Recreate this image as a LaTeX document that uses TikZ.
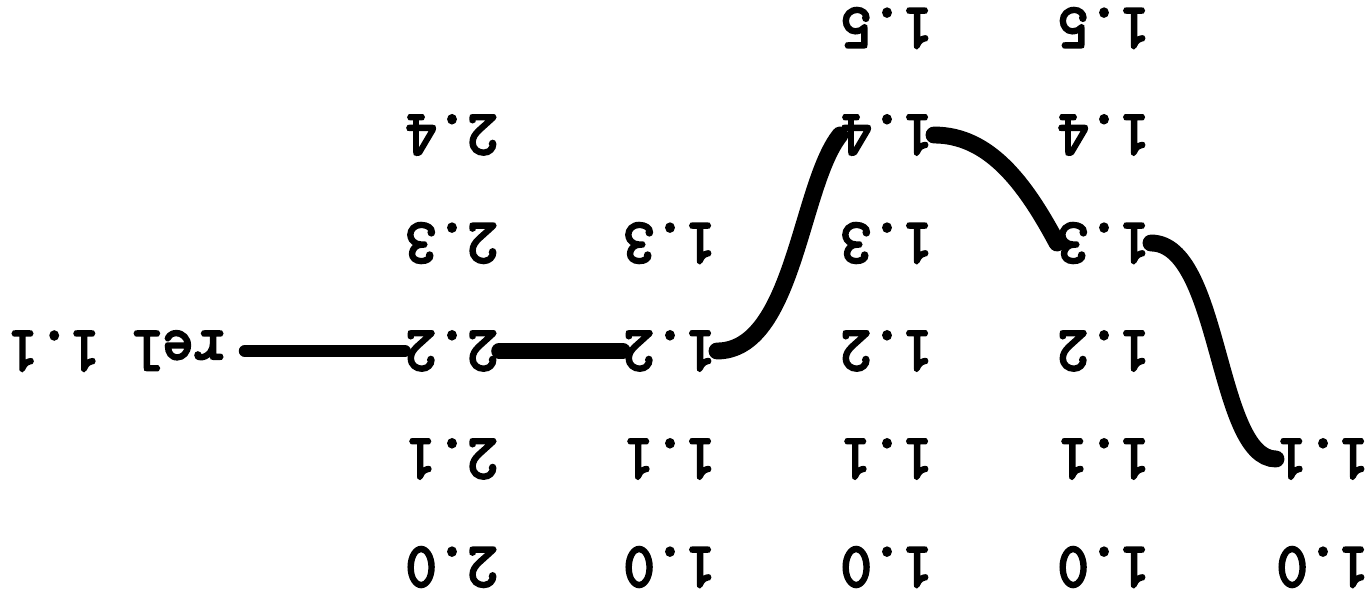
\documentclass[tikz,border=0pt]{standalone}
\usepackage{fontspec}
\usepackage{tikz}
\newfontfamily\revfamily{lmmono10-regular}[Extension=.otf, FakeBold=4]
\newcommand{\revfont}{\revfamily\fontsize{18}{18}\selectfont}
\tikzset{
  revlabel/.style  = {font=\revfont, inner sep=0pt, xscale=0.93},
  revpath/.style   = {line width=4.8pt, line cap=round},
  mergepath/.style = {line width=4.4pt, line cap=round},
  tagpath/.style   = {line width=3.4pt, line cap=round}
}
\begin{document}
\begin{tikzpicture}[rotate=180,transform shape]
  \useasboundingbox (0,-6.03) rectangle (13.72,0);
  % first column
  \node[revlabel] (a10) at (0.49,-0.36) {1.0};
  \node[revlabel] (a11) at (0.49,-1.44) {1.1};
  % second column
  \node[revlabel] (b10) at (2.68,-0.36) {1.0};
  \node[revlabel] (b11) at (2.68,-1.44) {1.1};
  \node[revlabel] (b12) at (2.68,-2.52) {1.2};
  \node[revlabel] (b13) at (2.68,-3.60) {1.3};
  \node[revlabel] (b14) at (2.68,-4.68) {1.4};
  \node[revlabel] (b15) at (2.68,-5.75) {1.5};
  % third column
  \node[revlabel] (c10) at (4.85,-0.36) {1.0};
  \node[revlabel] (c11) at (4.85,-1.44) {1.1};
  \node[revlabel] (c12) at (4.85,-2.52) {1.2};
  \node[revlabel] (c13) at (4.85,-3.60) {1.3};
  \node[revlabel] (c14) at (4.85,-4.68) {1.4};
  \node[revlabel] (c15) at (4.85,-5.75) {1.5};
  % fourth column
  \node[revlabel] (d10) at (7.02,-0.36) {1.0};
  \node[revlabel] (d11) at (7.02,-1.44) {1.1};
  \node[revlabel] (d12) at (7.02,-2.52) {1.2};
  \node[revlabel] (d13) at (7.02,-3.60) {1.3};
  % second trunk
  \node[revlabel] (e20) at (9.20,-0.36) {2.0};
  \node[revlabel] (e21) at (9.20,-1.44) {2.1};
  \node[revlabel] (e22) at (9.20,-2.52) {2.2};
  \node[revlabel] (e23) at (9.20,-3.60) {2.3};
  \node[revlabel] (e24) at (9.20,-4.68) {2.4};
  % the tag
  \node[revlabel] (rel) at (12.56,-2.52) {rel 1.1};
  % the path through the revisions
  \draw[revpath] (a11.east) .. controls +(0.6,0) and +(-0.7,0) .. (b13.west);
  \draw[revpath] (b13.east) .. controls +(0.32,-0.6) and +(-0.55,0) .. (c14.west);
  \draw[revpath] (c14.east) .. controls +(0.4,0.5) and +(-0.77,0) .. (d12.west);
  \draw[mergepath] (d12.east) -- (e22.west);
  \draw[tagpath,shorten >=2mm] (e22.east) -- (rel.west);
\end{tikzpicture}
\end{document}
